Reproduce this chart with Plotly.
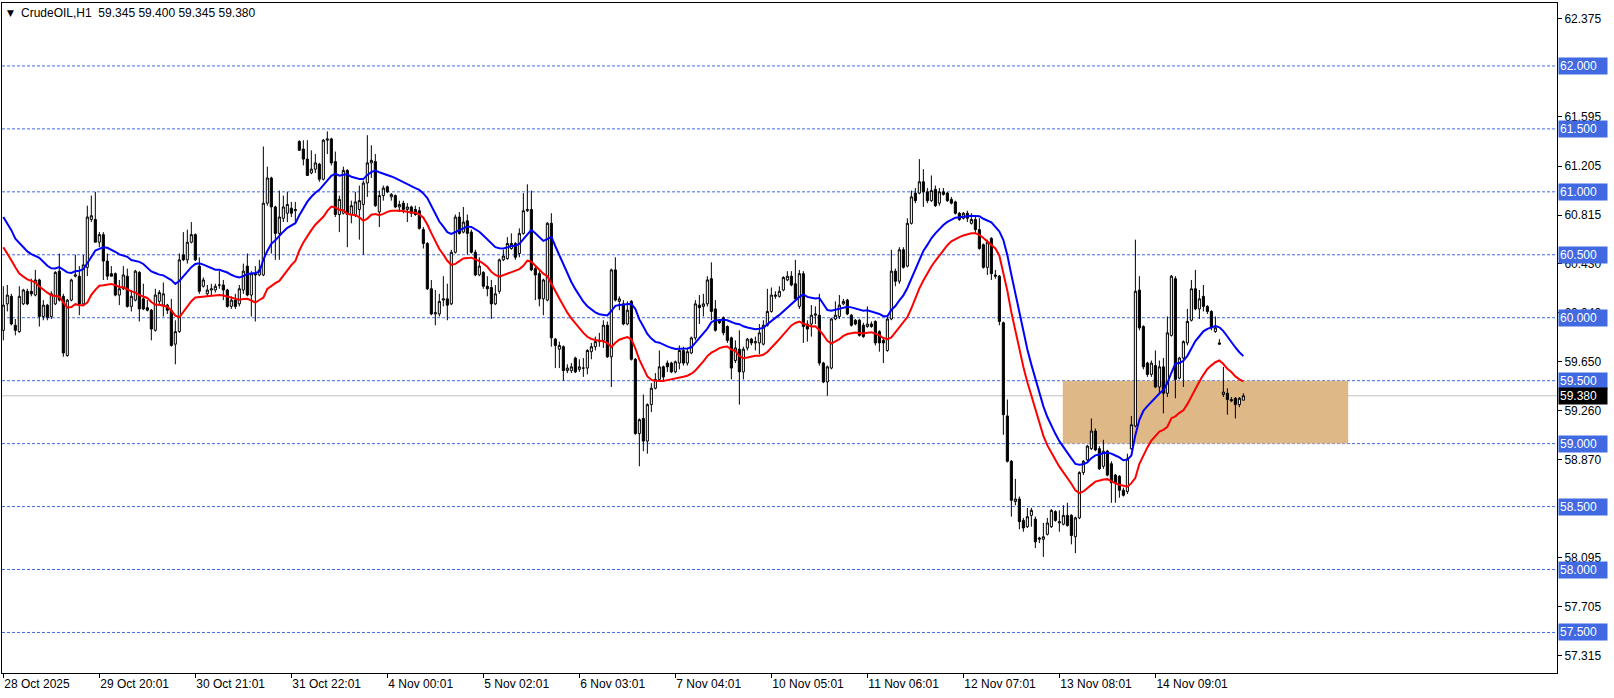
import plotly.graph_objects as go

# ---------------- data (CrudeOIL, H1) ----------------
opens = [
    59.90, 60.11, 60.17, 59.94, 59.89, 60.11, 60.21, 60.21, 60.18, 60.30,
    60.01, 60.10, 60.01, 60.11, 60.37, 60.17, 59.70, 60.14, 60.33, 60.33,
    60.11, 60.40, 60.78, 60.78, 60.60, 60.66, 60.45, 60.35, 60.35, 60.18,
    60.23, 60.33, 60.09, 60.14, 60.36, 60.15, 60.08, 60.06, 59.90, 60.13,
    60.10, 60.10, 60.06, 59.79, 59.89, 60.50, 60.46, 60.60, 60.66, 60.41,
    60.25, 60.19, 60.22, 60.22, 60.26, 60.26, 60.22, 60.09, 60.14, 60.11,
    60.22, 60.41, 60.18, 60.35, 60.34, 60.34, 60.91, 61.11, 60.88, 60.67,
    60.79, 60.83, 60.87, 60.85, 61.40, 61.34, 61.26, 61.15, 61.18, 61.22,
    61.10, 61.41, 61.42, 61.24, 60.82, 60.83, 61.17, 60.82, 60.82, 60.86,
    60.90, 61.07, 61.23, 61.24, 60.84, 60.97, 61.04, 60.96, 60.97, 60.88,
    60.91, 60.86, 60.88, 60.86, 60.85, 60.70, 60.59, 60.23, 60.03, 60.03,
    60.14, 60.15, 60.11, 60.52, 60.80, 60.68, 60.77, 60.68, 60.52, 60.34,
    60.36, 60.25, 60.24, 60.11, 60.21, 60.46, 60.47, 60.55, 60.59, 60.51,
    60.67, 60.85, 60.86, 60.39, 60.35, 60.15, 60.14, 60.75, 59.83, 59.75,
    59.77, 59.58, 59.58, 59.68, 59.59, 59.60, 59.60, 59.73, 59.77, 59.81,
    59.82, 59.94, 59.69, 60.38, 60.13, 60.11, 59.95, 60.13, 59.67, 59.08,
    59.20, 59.02, 59.31, 59.44, 59.51, 59.61, 59.64, 59.64, 59.57, 59.64,
    59.74, 59.64, 59.72, 59.84, 60.10, 60.09, 60.11, 60.31, 60.07, 59.98,
    60.00, 59.93, 59.84, 59.66, 59.75, 59.57, 59.76, 59.83, 59.80, 59.80,
    59.79, 59.94, 60.05, 60.17, 60.17, 60.22, 60.30, 60.33, 60.27, 60.09,
    60.35, 59.95, 59.95, 60.02, 60.02, 59.64, 59.49, 59.60, 59.99, 60.01,
    60.11, 60.14, 60.02, 59.98, 59.98, 59.94, 59.93, 59.95, 59.97, 59.89,
    59.82, 59.74, 59.99, 60.37, 60.29, 60.54, 60.41, 60.75, 60.99, 60.99,
    61.08, 61.00, 60.93, 61.02, 60.91, 61.00, 60.99, 60.94, 60.92, 60.83,
    60.79, 60.83, 60.75, 60.78, 60.70, 60.58, 60.40, 60.63, 60.34, 60.33,
    59.96, 59.22, 58.86, 58.54, 58.56, 58.39, 58.34, 58.43, 58.40, 58.24,
    58.24, 58.28, 58.34, 58.46, 58.37, 58.36, 58.43, 58.43, 58.26, 58.41,
    58.77, 58.87, 58.96, 59.10, 58.96, 58.82, 58.94, 58.84, 58.75, 58.74,
    58.63, 58.62, 58.96, 59.14, 60.22, 59.93, 59.64, 59.55, 59.62, 59.45,
    59.61, 59.40, 59.86, 60.31, 59.52, 59.68, 59.80, 59.98, 60.23, 60.07,
    60.17, 60.09, 60.05, 59.89, 59.80, 59.39, 59.40, 59.35, 59.36, 59.31,
    59.345,
]
highs = [
    60.25, 60.26, 60.19, 59.99, 60.25, 60.23, 60.23, 60.31, 60.38, 60.31,
    60.14, 60.11, 60.21, 60.37, 60.51, 60.19, 60.15, 60.31, 60.50, 60.41,
    60.50, 60.89, 60.97, 61.00, 60.68, 60.68, 60.51, 60.41, 60.36, 60.30,
    60.41, 60.39, 60.22, 60.38, 60.37, 60.27, 60.14, 60.07, 60.23, 60.22,
    60.28, 60.11, 60.15, 59.98, 60.51, 60.68, 60.70, 60.76, 60.67, 60.48,
    60.32, 60.26, 60.27, 60.27, 60.37, 60.30, 60.23, 60.17, 60.19, 60.26,
    60.43, 60.51, 60.37, 60.41, 60.46, 61.36, 61.20, 61.12, 60.89, 61.01,
    60.97, 61.00, 60.92, 60.92, 61.41, 61.41, 61.41, 61.33, 61.30, 61.23,
    61.42, 61.48, 61.43, 61.32, 60.97, 61.20, 61.18, 60.93, 61.00, 61.05,
    61.09, 61.45, 61.37, 61.30, 61.01, 61.05, 61.05, 60.99, 60.98, 60.93,
    60.93, 60.91, 60.89, 60.89, 60.88, 60.72, 60.60, 60.30, 60.22, 60.19,
    60.33, 60.27, 60.54, 60.82, 60.84, 60.88, 60.82, 60.70, 60.54, 60.48,
    60.37, 60.33, 60.30, 60.26, 60.47, 60.54, 60.64, 60.67, 60.60, 60.71,
    60.99, 61.06, 61.01, 60.41, 60.37, 60.31, 60.76, 60.83, 59.84, 59.81,
    59.78, 59.63, 59.64, 59.69, 59.67, 59.68, 59.75, 59.80, 59.85, 59.88,
    59.98, 59.97, 60.39, 60.48, 60.17, 60.14, 60.13, 60.14, 59.68, 59.20,
    59.39, 59.32, 59.48, 59.56, 59.74, 59.62, 59.66, 59.65, 59.66, 59.78,
    59.77, 59.76, 59.85, 60.14, 60.18, 60.19, 60.33, 60.44, 60.14, 59.99,
    60.01, 59.94, 59.85, 59.82, 59.90, 59.77, 59.84, 59.84, 59.85, 59.95,
    59.98, 60.23, 60.24, 60.21, 60.25, 60.33, 60.37, 60.37, 60.46, 60.38,
    60.37, 59.98, 60.10, 60.09, 60.19, 59.65, 59.62, 60.00, 60.13, 60.18,
    60.15, 60.15, 60.03, 59.99, 59.99, 59.96, 60.09, 59.97, 59.98, 59.90,
    59.84, 60.01, 60.54, 60.39, 60.56, 60.56, 60.79, 61.01, 61.03, 61.26,
    61.18, 61.03, 61.13, 61.05, 61.03, 61.03, 61.00, 60.96, 60.93, 60.84,
    60.84, 60.85, 60.83, 60.80, 60.79, 60.59, 60.62, 60.64, 60.38, 60.34,
    59.97, 59.35, 58.87, 58.72, 58.58, 58.41, 58.49, 58.49, 58.42, 58.26,
    58.37, 58.41, 58.48, 58.47, 58.47, 58.51, 58.53, 58.44, 58.42, 58.78,
    58.87, 58.99, 59.20, 59.12, 58.98, 59.03, 58.95, 58.86, 58.76, 58.75,
    58.65, 58.92, 59.22, 60.62, 60.33, 59.94, 59.65, 59.66, 59.74, 59.66,
    59.68, 60.01, 60.34, 60.33, 59.69, 59.82, 60.07, 60.30, 60.38, 60.22,
    60.26, 60.10, 60.06, 60.01, 59.83, 59.61, 59.44, 59.37, 59.37, 59.37,
    59.400,
]
lows = [
    59.82, 60.05, 59.94, 59.86, 59.88, 60.10, 60.10, 60.17, 60.17, 59.93,
    59.98, 59.98, 59.99, 60.10, 60.13, 59.69, 59.69, 60.13, 60.32, 60.02,
    60.09, 60.33, 60.76, 60.60, 60.56, 60.30, 60.30, 60.33, 60.17, 60.10,
    60.22, 60.08, 60.05, 60.13, 59.97, 60.06, 60.05, 59.82, 59.89, 60.10,
    60.01, 60.03, 59.77, 59.63, 59.88, 60.45, 60.43, 60.59, 60.45, 60.19,
    60.24, 60.17, 60.18, 60.20, 60.23, 60.14, 60.08, 60.07, 60.07, 60.09,
    60.19, 60.17, 60.01, 59.97, 60.33, 60.33, 60.89, 60.51, 60.46, 60.46,
    60.76, 60.76, 60.80, 60.76, 61.33, 61.21, 61.13, 61.14, 61.15, 61.08,
    61.09, 61.30, 61.21, 60.80, 60.68, 60.82, 60.56, 60.75, 60.80, 60.62,
    60.50, 60.96, 61.11, 60.88, 60.72, 60.93, 60.99, 60.93, 60.87, 60.84,
    60.83, 60.76, 60.80, 60.81, 60.70, 60.55, 60.22, 60.02, 59.94, 60.01,
    60.09, 59.98, 60.10, 60.51, 60.66, 60.67, 60.50, 60.51, 60.33, 60.33,
    60.23, 60.17, 59.99, 60.10, 60.19, 60.45, 60.46, 60.54, 60.46, 60.48,
    60.66, 60.84, 60.37, 60.14, 60.09, 60.02, 60.13, 59.77, 59.60, 59.60,
    59.50, 59.56, 59.56, 59.56, 59.57, 59.53, 59.55, 59.67, 59.74, 59.77,
    59.76, 59.68, 59.45, 60.13, 60.06, 59.94, 59.94, 59.66, 59.07, 58.82,
    58.94, 58.92, 59.25, 59.43, 59.49, 59.49, 59.57, 59.56, 59.56, 59.59,
    59.62, 59.62, 59.71, 59.82, 59.95, 60.01, 60.09, 59.98, 59.89, 59.95,
    59.86, 59.80, 59.51, 59.64, 59.31, 59.51, 59.74, 59.78, 59.74, 59.71,
    59.78, 59.93, 60.04, 60.15, 60.16, 60.21, 60.29, 60.25, 60.14, 60.07,
    59.80, 59.81, 59.85, 59.95, 59.62, 59.48, 59.38, 59.59, 59.98, 59.99,
    60.10, 60.02, 59.93, 59.94, 59.85, 59.84, 59.92, 59.92, 59.78, 59.73,
    59.64, 59.73, 59.98, 60.25, 60.27, 60.39, 60.40, 60.74, 60.91, 60.98,
    60.88, 60.91, 60.92, 60.88, 60.89, 60.97, 60.92, 60.90, 60.82, 60.77,
    60.78, 60.76, 60.74, 60.67, 60.54, 60.39, 60.34, 60.30, 60.31, 59.94,
    59.07, 58.85, 58.42, 58.51, 58.32, 58.30, 58.33, 58.34, 58.17, 58.21,
    58.10, 58.27, 58.33, 58.38, 58.30, 58.35, 58.34, 58.20, 58.13, 58.40,
    58.75, 58.86, 58.95, 58.94, 58.79, 58.80, 58.74, 58.53, 58.53, 58.57,
    58.58, 58.60, 58.95, 59.13, 59.90, 59.59, 59.53, 59.53, 59.44, 59.40,
    59.24, 59.37, 59.85, 59.36, 59.51, 59.45, 59.78, 59.97, 60.06, 59.99,
    60.05, 60.03, 59.90, 59.88, 59.79, 59.37, 59.23, 59.33, 59.20, 59.29,
    59.345,
]
closes = [
    60.10, 60.18, 59.95, 59.90, 60.17, 60.22, 60.11, 60.19, 60.30, 60.01,
    60.10, 60.00, 60.19, 60.36, 60.14, 59.72, 60.14, 60.30, 60.34, 60.11,
    60.42, 60.80, 60.81, 60.60, 60.66, 60.45, 60.33, 60.33, 60.18, 60.23,
    60.34, 60.09, 60.17, 60.37, 60.07, 60.07, 60.06, 59.91, 60.18, 60.20,
    60.19, 60.06, 59.78, 59.89, 60.46, 60.46, 60.60, 60.66, 60.46, 60.21,
    60.30, 60.22, 60.23, 60.25, 60.26, 60.22, 60.09, 60.14, 60.09, 60.23,
    60.37, 60.18, 60.35, 60.34, 60.38, 60.91, 61.11, 60.88, 60.67, 60.80,
    60.88, 60.90, 60.83, 60.86, 61.33, 61.26, 61.13, 61.18, 61.23, 61.10,
    61.41, 61.42, 61.23, 60.82, 60.94, 61.17, 60.82, 60.89, 60.92, 60.93,
    61.07, 61.23, 61.25, 60.89, 60.97, 61.03, 61.00, 60.98, 60.88, 60.90,
    60.86, 60.88, 60.83, 60.82, 60.71, 60.59, 60.23, 60.03, 60.04, 60.13,
    60.15, 60.10, 60.52, 60.80, 60.67, 60.76, 60.67, 60.52, 60.34, 60.41,
    60.25, 60.23, 60.11, 60.19, 60.46, 60.49, 60.59, 60.59, 60.48, 60.67,
    60.85, 60.86, 60.38, 60.34, 60.15, 60.30, 60.75, 59.84, 59.78, 59.78,
    59.58, 59.60, 59.61, 59.57, 59.61, 59.60, 59.74, 59.77, 59.81, 59.82,
    59.94, 59.69, 60.38, 60.14, 60.15, 59.95, 60.06, 59.67, 59.08, 59.19,
    59.02, 59.31, 59.44, 59.51, 59.61, 59.53, 59.61, 59.57, 59.65, 59.74,
    59.64, 59.73, 59.84, 60.11, 60.08, 60.11, 60.30, 60.05, 59.90, 59.96,
    59.88, 59.82, 59.60, 59.76, 59.57, 59.75, 59.83, 59.80, 59.81, 59.88,
    59.94, 60.05, 60.18, 60.18, 60.21, 60.32, 60.33, 60.26, 60.15, 60.35,
    59.93, 59.91, 60.02, 60.03, 59.64, 59.49, 59.61, 59.99, 60.02, 60.10,
    60.13, 60.03, 59.94, 59.95, 59.86, 59.85, 59.95, 59.93, 59.80, 59.80,
    59.80, 59.99, 60.37, 60.29, 60.54, 60.40, 60.75, 60.96, 60.93, 61.08,
    61.00, 60.93, 61.01, 60.89, 61.00, 60.98, 60.93, 60.91, 60.83, 60.78,
    60.83, 60.79, 60.78, 60.70, 60.55, 60.40, 60.60, 60.35, 60.33, 59.97,
    59.23, 58.86, 58.55, 58.56, 58.38, 58.33, 58.42, 58.47, 58.22, 58.25,
    58.26, 58.37, 58.47, 58.39, 58.38, 58.43, 58.35, 58.27, 58.41, 58.77,
    58.86, 58.98, 59.10, 58.95, 58.80, 58.94, 58.75, 58.69, 58.69, 58.63,
    58.59, 58.88, 59.15, 60.21, 59.92, 59.61, 59.55, 59.64, 59.45, 59.61,
    59.40, 59.88, 60.33, 59.51, 59.68, 59.81, 59.97, 60.23, 60.07, 60.15,
    60.09, 60.05, 59.92, 59.92, 59.79, 59.41, 59.35, 59.34, 59.31, 59.36,
    59.380,
]

# indicator settings (EMA 20 of highs / lows) and their first values
ma_period = 20
ma_high_first = 60.80
ma_low_first = 60.56

# time axis labels (every 24 bars)
date_labels = ["28 Oct 2025", "29 Oct 20:01", "30 Oct 21:01", "31 Oct 22:01",
               "4 Nov 00:01", "5 Nov 02:01", "6 Nov 03:01", "7 Nov 04:01",
               "10 Nov 05:01", "11 Nov 06:01", "12 Nov 07:01", "13 Nov 08:01",
               "14 Nov 09:01"]
label_step = 24

# visible price-scale labels (the ones fully hidden under level boxes are omitted)
price_ticks = [62.375, 61.595, 61.205, 60.815, 60.430, 60.040,
               59.650, 59.260, 58.870, 58.095, 57.705, 57.315]
levels = [62.0, 61.5, 61.0, 60.5, 60.0, 59.5, 59.0, 58.5, 58.0, 57.5]
last_price = 59.380
zone_bars = [264.85, 336.2]
zone_prices = [59.0, 59.5]
header = "CrudeOIL,H1\u00a0\u00a059.345 59.400 59.345 59.380"

# ---------------- build ----------------
bars = list(range(len(opens)))


def ema(values, first, period):
    a = 2.0 / (period + 1)
    out = [first]
    for v in values[1:]:
        out.append(out[-1] + a * (v - out[-1]))
    return out


ma_high = ema(highs, ma_high_first, ma_period)
ma_low = ema(lows, ma_low_first, ma_period)

LEVEL_BLUE = "#4169E1"
FONT = "Liberation Sans"

fig = go.Figure()
fig.add_trace(go.Candlestick(
    x=bars, open=opens, high=highs, low=lows, close=closes,
    increasing=dict(line=dict(color="black", width=1), fillcolor="white"),
    decreasing=dict(line=dict(color="black", width=1), fillcolor="black"),
    whiskerwidth=0, hoverinfo="skip", showlegend=False,
))
fig.add_trace(go.Scatter(x=bars, y=ma_high, mode="lines",
                         line=dict(color="#0000FF", width=2),
                         hoverinfo="skip", showlegend=False))
fig.add_trace(go.Scatter(x=bars, y=ma_low, mode="lines",
                         line=dict(color="#FF0000", width=2),
                         hoverinfo="skip", showlegend=False))

shapes = [dict(type="rect", xref="x", yref="y",
               x0=zone_bars[0], x1=zone_bars[1], y0=zone_prices[0], y1=zone_prices[1],
               fillcolor="#DEB887", line=dict(width=0), layer="below")]
for lv in levels:
    shapes.append(dict(type="line", xref="paper", yref="y", x0=0, x1=1, y0=lv, y1=lv,
                       line=dict(color=LEVEL_BLUE, width=1, dash="3px,2px"),
                       layer="below"))
shapes.append(dict(type="line", xref="paper", yref="y", x0=0, x1=1,
                   y0=last_price, y1=last_price,
                   line=dict(color="#C0C0C0", width=1), layer="below"))

annotations = []
for lv in levels:
    annotations.append(dict(xref="paper", yref="y", x=1, y=lv, xanchor="left",
                            yanchor="middle", xshift=1, text=f"{lv:.3f}",
                            showarrow=False, bgcolor=LEVEL_BLUE, borderpad=1,
                            width=46, align="left",
                            font=dict(family=FONT, size=12, color="white")))
annotations.append(dict(xref="paper", yref="y", x=1, y=last_price, xanchor="left",
                        yanchor="middle", xshift=1, text=f"{last_price:.3f}",
                        showarrow=False, bgcolor="black", borderpad=1,
                        width=46, align="left",
                        font=dict(family=FONT, size=12, color="white")))
annotations.append(dict(xref="paper", yref="paper", x=0, y=1, xanchor="left",
                        yanchor="middle", xshift=3, yshift=-10, text="\u25BC",
                        showarrow=False, font=dict(family="DejaVu Sans", size=9, color="black")))
annotations.append(dict(xref="paper", yref="paper", x=0, y=1, xanchor="left",
                        yanchor="middle", xshift=17, yshift=-10, text=header,
                        showarrow=False, font=dict(family=FONT, size=12, color="black")))

fig.update_layout(
    width=1614, height=698,
    margin=dict(l=2, r=57, t=3, b=25),
    paper_bgcolor="white", plot_bgcolor="white",
    showlegend=False, hovermode=False, boxgap=0.25,
    shapes=shapes, annotations=annotations,
    xaxis=dict(range=[-0.33, 388.4], showgrid=False, zeroline=False,
               showline=True, linecolor="black", linewidth=1, mirror=True,
               ticks="outside", ticklen=4, tickcolor="black",
               tickvals=[k * label_step for k in range(len(date_labels))],
               ticktext=date_labels, ticklabelposition="outside right",
               tickfont=dict(family=FONT, size=12, color="black"),
               rangeslider=dict(visible=False), fixedrange=True),
    yaxis=dict(range=[57.178, 62.5], side="right", showgrid=False, zeroline=False,
               showline=True, linecolor="black", linewidth=1, mirror=True,
               ticks="outside", ticklen=4, tickcolor="black",
               tickvals=price_ticks, ticktext=[f"{t:.3f}" for t in price_ticks],
               tickfont=dict(family=FONT, size=12, color="black"), fixedrange=True),
)

fig.write_html(
    "out.html",
    config={"displayModeBar": False, "staticPlot": True},
    post_script="document.body.style.margin='0';document.body.style.overflow='hidden';",
)
